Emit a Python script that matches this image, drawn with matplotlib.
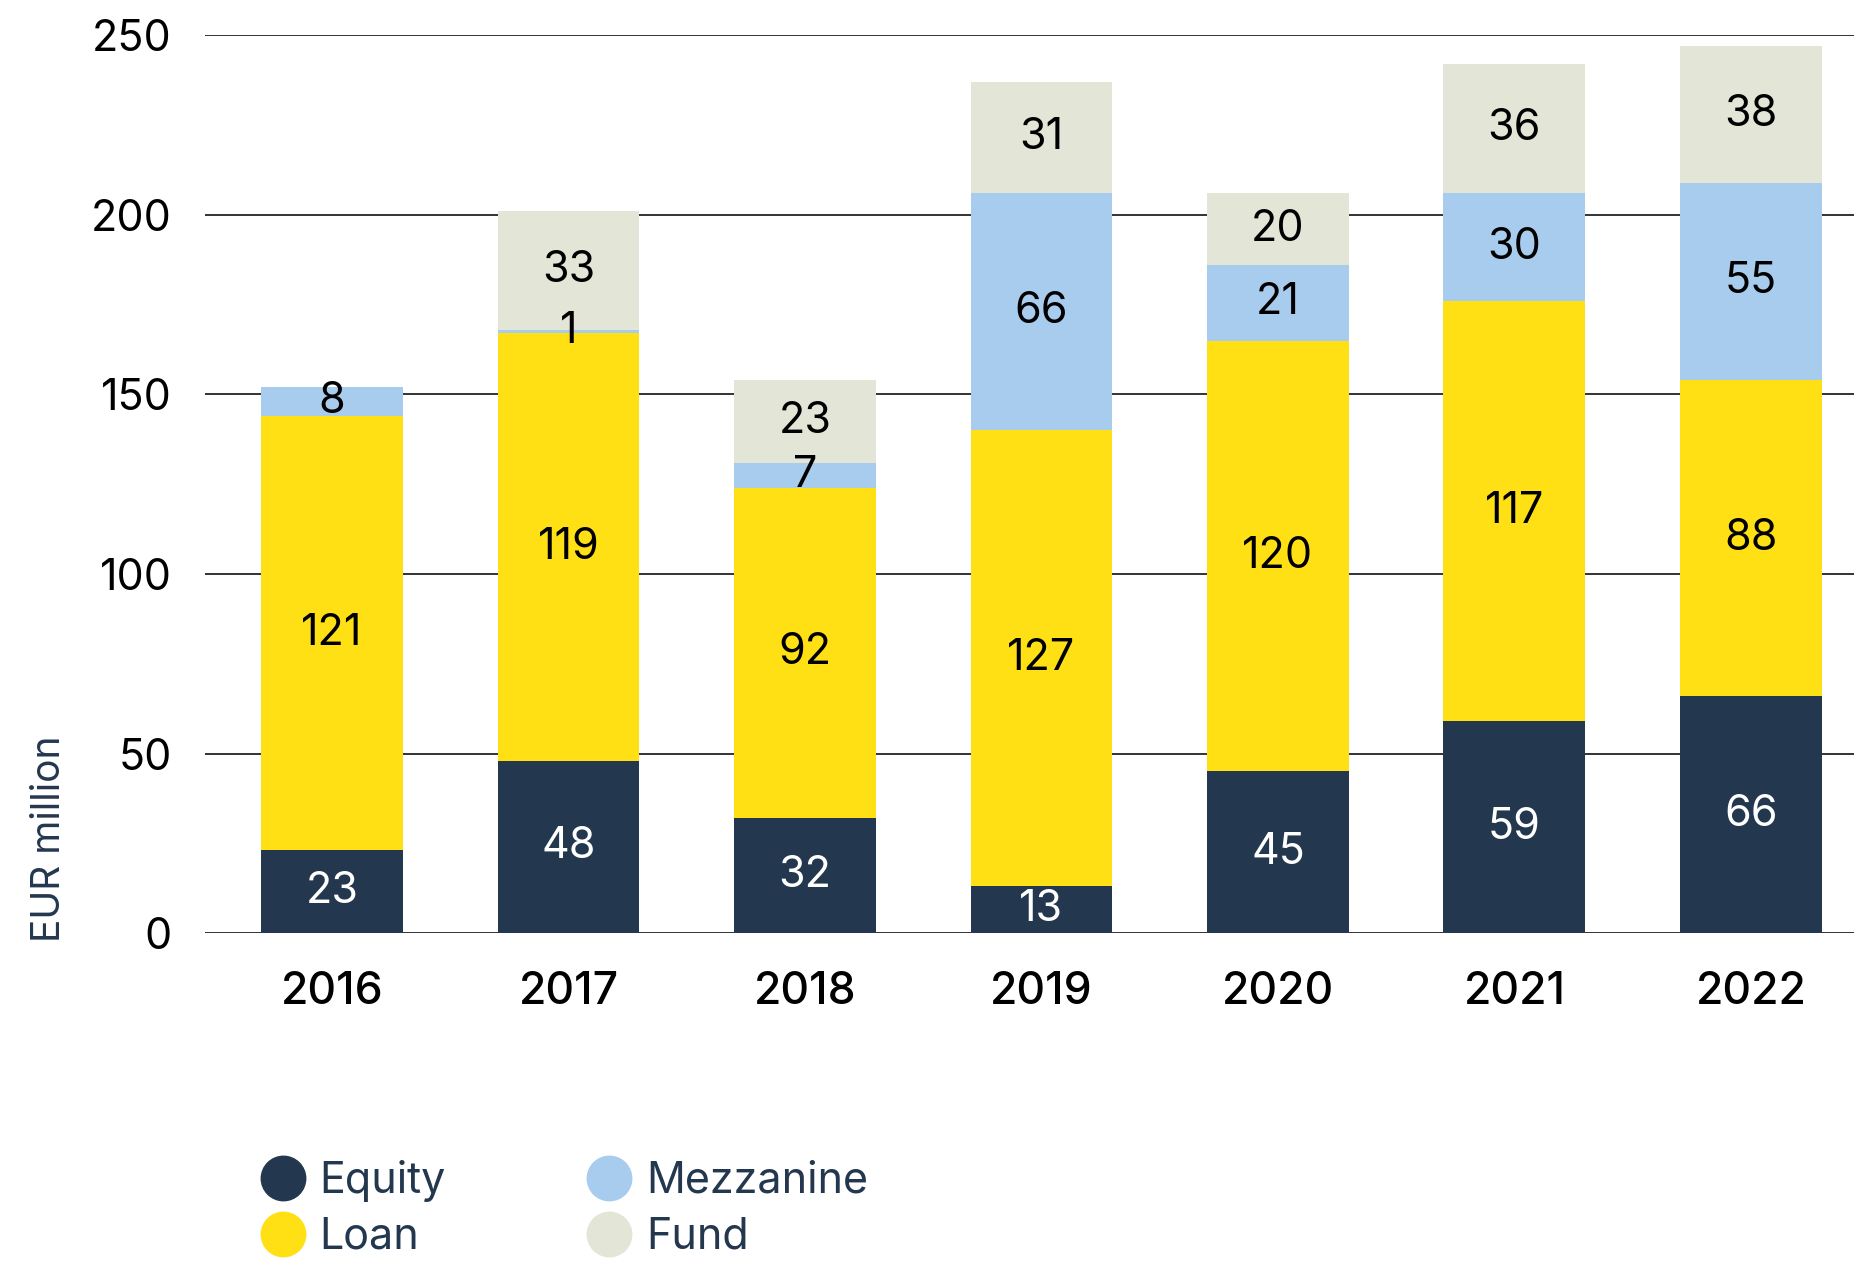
import matplotlib
matplotlib.use('Agg')
import matplotlib.pyplot as plt
from matplotlib.lines import Line2D
import numpy as np

plt.rcParams['font.family'] = ['Inter', 'DejaVu Sans']

# data (EUR million)
years = ['2016', '2017', '2018', '2019', '2020', '2021', '2022']
equity = [23, 48, 32, 13, 45, 59, 66]
loan = [121, 119, 92, 127, 120, 117, 88]
mezzanine = [8, 1, 7, 66, 21, 30, 55]
fund = [0, 33, 23, 31, 20, 36, 38]

series_names = ['Equity', 'Loan', 'Mezzanine', 'Fund']
colors = ['#23374f', '#ffe015', '#a8cced', '#e3e5d7']
label_colors = ['white', 'black', 'black', 'black']
navy = '#23374f'

fig = plt.figure(figsize=(18.54, 12.66), dpi=100)
ax = fig.add_axes([0.1106, 0.263, 0.8894, 0.709])

x = np.arange(len(years))
bottom = np.zeros(len(years))
for vals, name, col, lcol in zip([equity, loan, mezzanine, fund], series_names, colors, label_colors):
    vals = np.array(vals, dtype=float)
    ax.bar(x, vals, width=0.6, bottom=bottom, color=col, zorder=3, label=name)
    # value labels in the middle of each segment
    for xi, b, v in zip(x, bottom, vals):
        if v > 0:
            ax.text(xi, b + v / 2, f'{int(v)}', ha='center', va='center',
                    fontsize=31, color=lcol, zorder=4)
    bottom += vals

ax.set_ylim(0, 250)
ax.set_xlim(-0.537, 6.436)
ax.set_yticks([0, 50, 100, 150, 200, 250])
ax.set_xticks(x)
ax.set_xticklabels(years, fontweight='medium')
ax.yaxis.grid(True, color='#333333', linewidth=1.4, zorder=0)
for s in ax.spines.values():
    s.set_visible(False)
ax.tick_params(axis='y', length=0, pad=24, labelsize=31, labelcolor='black')
ax.tick_params(axis='x', length=0, pad=27, labelsize=32, labelcolor='black')

fig.text(50 / 1854, 1 - 942 / 1266, 'EUR million', rotation=90, ha='center', va='bottom',
         fontsize=28, color=navy)

# legend, two columns
handles = [Line2D([], [], marker='o', linestyle='', markersize=32, color=c) for c in colors]
leg = fig.legend(handles, series_names,
                 ncol=2, loc='lower left', bbox_to_anchor=(0.120, -0.024),
                 frameon=False, fontsize=31, handletextpad=0.35, columnspacing=3.3,
                 labelspacing=0.34, handlelength=1.0)
for t in leg.get_texts():
    t.set_color(navy)

fig.savefig('out.png', dpi=100)
